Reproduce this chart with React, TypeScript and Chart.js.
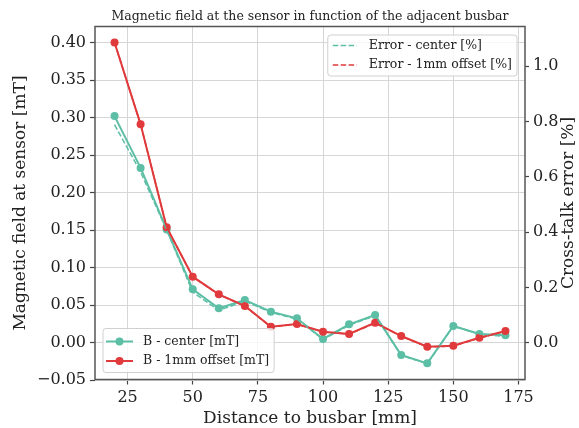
import React, { useEffect, useRef } from "react";
import { Chart, registerables } from "chart.js";

Chart.register(...registerables);

// ---- data ----
const distances = [20, 30, 40, 50, 60, 70, 80, 90, 100, 110, 120, 130, 140, 150, 160, 170];
const bCenter = [0.302, 0.233, 0.151, 0.0712, 0.0459, 0.057, 0.0413, 0.0325, 0.005, 0.0245, 0.037, -0.0164, -0.0275, 0.0223, 0.0116, 0.010];
const bOffset = [0.40, 0.291, 0.154, 0.088, 0.0645, 0.049, 0.0213, 0.025, 0.0147, 0.0116, 0.0267, 0.0089, -0.0053, -0.004, 0.0067, 0.0156];
const errCenter = [0.789, 0.618, 0.408, 0.184, 0.118, 0.151, 0.111, 0.086, 0.013, 0.064, 0.099, -0.045, -0.074, 0.061, 0.032, 0.024];
const errOffset = [1.086, 0.791, 0.418, 0.239, 0.175, 0.133, 0.058, 0.068, 0.040, 0.032, 0.072, 0.024, -0.014, -0.011, 0.018, 0.042];

const xTicks = [25, 50, 75, 100, 125, 150, 175];
const leftTicks = [-0.05, 0, 0.05, 0.1, 0.15, 0.2, 0.25, 0.3, 0.35, 0.4];
const rightTicks = [0, 0.2, 0.4, 0.6, 0.8, 1.0];

const titleText = "Magnetic field at the sensor in function of the adjacent busbar";
const xTitle = "Distance to busbar [mm]";
const yTitle = "Magnetic field at sensor [mT]";
const y1Title = "Cross-talk error [%]";

const TEAL = "#5CBFA5";
const RED = "#E03A3C";
const FONT = '"DejaVu Serif", serif';

const pts = (ys: number[]) => distances.map((x, i) => ({ x, y: ys[i] }));

const fmtMinus = (s: string) => s.replace("-", "\u2212");

const decor = {
  id: "decor",
  beforeDraw(chart: any) {
    const { ctx } = chart;
    ctx.save();
    ctx.fillStyle = "#ffffff";
    ctx.fillRect(0, 0, chart.width, chart.height);
    ctx.restore();
  },
  afterDraw(chart: any) {
    const { ctx, chartArea: a } = chart;
    ctx.save();
    // frame
    ctx.strokeStyle = "#555555";
    ctx.lineWidth = 1.5;
    ctx.strokeRect(a.left, a.top, a.right - a.left, a.bottom - a.top);

    const cx = (a.left + a.right) / 2;
    const cy = (a.top + a.bottom) / 2;
    ctx.fillStyle = "#222";
    ctx.textBaseline = "middle";
    ctx.textAlign = "center";
    ctx.font = `12.5px ${FONT}`;
    ctx.fillText(titleText, cx, 17);

    ctx.font = `17px ${FONT}`;
    ctx.fillText(xTitle, cx, 419);

    ctx.save();
    ctx.translate(21, cy);
    ctx.rotate(-Math.PI / 2);
    ctx.fillText(yTitle, 0, 0);
    ctx.restore();

    ctx.save();
    ctx.translate(569, cy);
    ctx.rotate(-Math.PI / 2);
    ctx.fillText(y1Title, 0, 0);
    ctx.restore();

    // legends
    const ds = chart.data.datasets;
    const drawBox = (x: number, y: number, w: number, h: number) => {
      const r = 3;
      ctx.beginPath();
      ctx.moveTo(x + r, y);
      ctx.lineTo(x + w - r, y);
      ctx.quadraticCurveTo(x + w, y, x + w, y + r);
      ctx.lineTo(x + w, y + h - r);
      ctx.quadraticCurveTo(x + w, y + h, x + w - r, y + h);
      ctx.lineTo(x + r, y + h);
      ctx.quadraticCurveTo(x, y + h, x, y + h - r);
      ctx.lineTo(x, y + r);
      ctx.quadraticCurveTo(x, y, x + r, y);
      ctx.closePath();
      ctx.fillStyle = "rgba(255,255,255,0.8)";
      ctx.fill();
      ctx.strokeStyle = "#d0d0d0";
      ctx.lineWidth = 1;
      ctx.stroke();
    };
    ctx.font = `12.5px ${FONT}`;
    ctx.textAlign = "left";

    // top-right legend (error series)
    const errSets = [ds[2], ds[3]];
    const tw1 = Math.max(...errSets.map((d: any) => ctx.measureText(d.label).width));
    const w1 = 41 + tw1 + 5;
    const x1 = a.right - 8 - w1;
    const y1 = a.top + 8.5;
    drawBox(x1, y1, w1, 41);
    errSets.forEach((d: any, i: number) => {
      const ry = y1 + 10.5 + i * 19.5;
      ctx.save();
      ctx.strokeStyle = d.borderColor;
      ctx.lineWidth = 1.5;
      ctx.setLineDash([5.5, 2.4]);
      ctx.beginPath();
      ctx.moveTo(x1 + 5, ry);
      ctx.lineTo(x1 + 29, ry);
      ctx.stroke();
      ctx.restore();
      ctx.fillStyle = "#222";
      ctx.fillText(d.label, x1 + 41, ry);
    });

    // bottom-left legend (B series)
    const bSets = [ds[0], ds[1]];
    const tw2 = Math.max(...bSets.map((d: any) => ctx.measureText(d.label).width));
    const w2 = 40 + tw2 + 5;
    const x2 = a.left + 8;
    const h2 = 44;
    const y2 = a.bottom - 7 - h2;
    drawBox(x2, y2, w2, h2);
    bSets.forEach((d: any, i: number) => {
      const ry = y2 + 13 + i * 19.5;
      ctx.save();
      ctx.strokeStyle = d.borderColor;
      ctx.lineWidth = 2;
      ctx.beginPath();
      ctx.moveTo(x2 + 3, ry);
      ctx.lineTo(x2 + 30, ry);
      ctx.stroke();
      ctx.fillStyle = d.borderColor;
      ctx.beginPath();
      ctx.arc(x2 + 16.5, ry, 4, 0, Math.PI * 2);
      ctx.fill();
      ctx.restore();
      ctx.fillStyle = "#222";
      ctx.fillText(d.label, x2 + 40, ry);
    });

    ctx.restore();
  },
};

export default function App() {
  const ref = useRef<HTMLCanvasElement | null>(null);

  useEffect(() => {
    if (!ref.current) return;
    const tickFont = { family: FONT, size: 16 };
    const chart = new Chart(ref.current, {
      type: "line",
      data: {
        datasets: [
          {
            label: "B - center [mT]",
            data: pts(bCenter),
            borderColor: TEAL,
            backgroundColor: TEAL,
            borderWidth: 2,
            pointRadius: 4,
            pointBorderWidth: 0,
            yAxisID: "y",
            order: 3,
          },
          {
            label: "B - 1mm offset [mT]",
            data: pts(bOffset),
            borderColor: RED,
            backgroundColor: RED,
            borderWidth: 2,
            pointRadius: 4,
            pointBorderWidth: 0,
            yAxisID: "y",
            order: 2,
          },
          {
            label: "Error - center [%]",
            data: pts(errCenter),
            borderColor: TEAL,
            backgroundColor: TEAL,
            borderWidth: 1.5,
            borderDash: [5.5, 2.4],
            pointRadius: 0,
            yAxisID: "y1",
            order: 1,
          },
          {
            label: "Error - 1mm offset [%]",
            data: pts(errOffset),
            borderColor: RED,
            backgroundColor: RED,
            borderWidth: 1.5,
            borderDash: [5.5, 2.4],
            pointRadius: 0,
            yAxisID: "y1",
            order: 0,
          },
        ],
      },
      options: {
        animation: false,
        responsive: false,
        events: [],
        layout: { padding: { top: 26.5, left: 0, right: 0, bottom: 0 } },
        plugins: {
          legend: { display: false },
          title: { display: false },
          tooltip: { enabled: false },
        },
        scales: {
          x: {
            type: "linear",
            min: 12.5,
            max: 177.5,
            afterBuildTicks: (s: any) => {
              s.ticks = xTicks.map((v) => ({ value: v }));
            },
            afterFit: (s: any) => {
              s.height = 48.5;
            },
            grid: { color: "#d6d6d6", lineWidth: 1, tickLength: 5, tickColor: "#444", tickWidth: 1.2 },
            border: { display: false },
            ticks: { autoSkip: false, maxRotation: 0, font: tickFont, color: "#222", padding: 4 },
          },
          y: {
            type: "linear",
            position: "left",
            min: -0.049,
            max: 0.4214,
            afterBuildTicks: (s: any) => {
              s.ticks = leftTicks.map((v) => ({ value: v }));
            },
            afterFit: (s: any) => {
              s.width = 95;
            },
            grid: { color: "#d6d6d6", lineWidth: 1, tickLength: 5, tickColor: "#444", tickWidth: 1.2 },
            border: { display: false },
            ticks: {
              autoSkip: false,
              font: tickFont,
              color: "#222",
              padding: 4,
              callback: (v: any) => fmtMinus(Number(v).toFixed(2)),
            },
          },
          y1: {
            type: "linear",
            position: "right",
            min: -0.132,
            max: 1.144,
            afterBuildTicks: (s: any) => {
              s.ticks = rightTicks.map((v) => ({ value: v }));
            },
            afterFit: (s: any) => {
              s.width = 54;
            },
            grid: { drawOnChartArea: false, tickLength: 4, tickColor: "#444", tickWidth: 1.2 },
            border: { display: false },
            ticks: {
              autoSkip: false,
              font: tickFont,
              color: "#222",
              padding: 4,
              callback: (v: any) => fmtMinus(Number(v).toFixed(1)),
            },
          },
        },
      },
      plugins: [decor],
    } as any);
    return () => chart.destroy();
  }, []);

  return (
    <div style={{ position: "absolute", left: 0, top: 0, width: 579, height: 428 }}>
      <canvas ref={ref} width={579} height={428} style={{ display: "block" }} />
    </div>
  );
}
